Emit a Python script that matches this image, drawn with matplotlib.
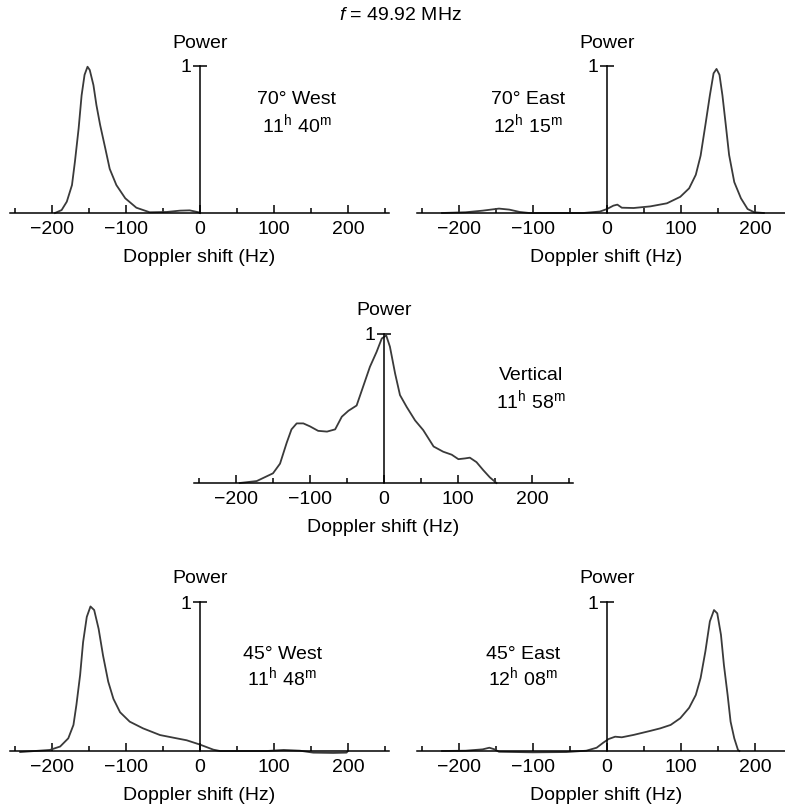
import matplotlib
matplotlib.use("Agg")
import matplotlib.pyplot as plt

plt.rcParams['font.family'] = ['Liberation Sans', 'DejaVu Sans']
plt.rcParams['mathtext.fontset'] = 'custom'
plt.rcParams['mathtext.rm'] = 'Liberation Sans'
plt.rcParams['mathtext.it'] = 'Liberation Sans:italic'

# ---------------- data (Doppler shift in Hz, normalised power) ----------------
w70_shift = [-196, -187, -180, -173, -169, -164, -160, -156, -152, -149, -144, -140,
             -135, -128, -122, -113, -101, -86, -68, -45, -27, -14, -2, 0]
w70_power = [0.0, 0.02, 0.077, 0.19, 0.35, 0.576, 0.80, 0.94, 0.995, 0.973, 0.87, 0.735,
             0.60, 0.44, 0.30, 0.19, 0.10, 0.036, 0.005, 0.007, 0.016, 0.018, 0.005, 0.0]

e70_shift = [-223, -191, -168, -146, -132, -118, -105, -77, -32, -9.5, 0, 8.6, 14, 20,
             36, 58.5, 81, 99, 111, 120, 126.5, 133, 139, 144, 148, 152, 156, 160.5, 165,
             172, 181, 190, 199, 212]
e70_power = [0.0, 0.005, 0.016, 0.03, 0.023, 0.007, 0.0, 0.0, 0.0, 0.01, 0.027, 0.05,
             0.057, 0.036, 0.034, 0.045, 0.066, 0.11, 0.168, 0.26, 0.39, 0.60, 0.80, 0.95,
             0.98, 0.94, 0.80, 0.60, 0.395, 0.21, 0.10, 0.027, 0.005, 0.0]

vert_shift = [-195, -172, -150, -140.5, -131.5, -125, -118, -109, -100, -89, -77, -66,
              -57, -48, -37, -28, -19, -10, -3, 3, 8, 15, 21.6, 30.7, 42, 53, 67, 80,
              91.5, 100.5, 109.5, 116, 125, 134, 143, 152]
vert_power = [0.0, 0.013, 0.065, 0.13, 0.27, 0.36, 0.40, 0.40, 0.38, 0.35, 0.345, 0.36,
              0.445, 0.485, 0.52, 0.65, 0.78, 0.88, 0.97, 0.99, 0.915, 0.735, 0.59, 0.51,
              0.42, 0.355, 0.245, 0.21, 0.19, 0.16, 0.165, 0.17, 0.14, 0.087, 0.038, 0.0]

w45_shift = [-243, -203, -189, -178, -171, -167, -162, -158, -153, -148, -143, -137,
             -131, -124, -117, -108, -95, -77, -54, -31.5, -18, 0, 18, 27, 90, 113, 135,
             153, 180, 198, 200]
w45_power = [-0.007, 0.007, 0.03, 0.085, 0.175, 0.31, 0.51, 0.73, 0.90, 0.97, 0.946, 0.82,
             0.64, 0.465, 0.35, 0.26, 0.197, 0.152, 0.107, 0.085, 0.072, 0.043, 0.009, 0.0,
             0.0, 0.007, 0.002, -0.011, -0.013, -0.011, 0.0]

e45_shift = [-223, -191, -168, -159, -152, -146, -100, -55, -28, -14, -5, 2, 11, 20, 36,
             58.5, 72, 86, 99, 111, 120, 126.5, 133, 139, 144.6, 149, 154, 158, 163, 167,
             172, 177, 179]
e45_power = [0.0, 0.002, 0.011, 0.022, 0.011, -0.005, -0.009, -0.007, 0.002, 0.022, 0.056,
             0.08, 0.096, 0.092, 0.108, 0.135, 0.152, 0.175, 0.22, 0.29, 0.376, 0.49, 0.67,
             0.87, 0.946, 0.924, 0.78, 0.577, 0.376, 0.197, 0.085, 0.007, 0.0]

major_ticks = [-200, -100, 0, 100, 200]
minor_ticks = [-250, -150, -50, 50, 150, 250]
title_text = r"$f$ = 49.92 MHz"

# ---------------- layout ----------------
W, H = 785, 810
PX_PER_HZ = 0.74
XMIN, XMAX = -257, 255
YMIN, YMAX = -0.05, 1.05


def rect(zero_x, axis_y, unit_px):
    left = (zero_x + XMIN * PX_PER_HZ) / W
    width = (XMAX - XMIN) * PX_PER_HZ / W
    bottom = 1 - (axis_y - YMIN * unit_px) / H
    height = (YMAX - YMIN) * unit_px / H
    return [left, bottom, width, height]


fig = plt.figure(figsize=(W / 100, H / 100), dpi=100)

panels = [
    (rect(200, 213, 147), w70_shift, w70_power, "70° West", r"11$^{\rm h}$ 40$^{\rm m}$", 131, 0.77, 0.605),
    (rect(607, 213, 147), e70_shift, e70_power, "70° East", r"12$^{\rm h}$ 15$^{\rm m}$", -107, 0.77, 0.605),
    (rect(384, 483, 149), vert_shift, vert_power, "Vertical", r"11$^{\rm h}$ 58$^{\rm m}$", 199, 0.72, 0.555),
    (rect(200, 751, 149), w45_shift, w45_power, "45° West", r"11$^{\rm h}$ 48$^{\rm m}$", 111, 0.645, 0.495),
    (rect(607, 751, 149), e45_shift, e45_power, "45° East", r"12$^{\rm h}$ 08$^{\rm m}$", -114, 0.645, 0.495),
]

FS = 14
for r, xs, ps, l1, l2, tx, ty1, ty2 in panels:
    ax = fig.add_axes(r)
    ax.patch.set_visible(False)
    ax.plot(xs, ps, color='#3a3a3a', lw=1.3, solid_joinstyle='round')
    ax.set_xlim(XMIN, XMAX)
    ax.set_ylim(YMIN, YMAX)
    for s in ['top', 'right']:
        ax.spines[s].set_visible(False)
    ax.spines['bottom'].set_position(('data', 0))
    ax.spines['left'].set_position(('data', 0))
    ax.spines['left'].set_bounds(0, 1)
    ax.spines['bottom'].set_linewidth(1.1)
    ax.spines['left'].set_linewidth(1.1)
    ax.set_xticks(major_ticks)
    ax.set_xticks(minor_ticks, minor=True)
    ax.set_xticklabels([f"{t}".replace('-', '\u2212') for t in major_ticks])
    ax.tick_params(axis='x', which='major', direction='in', length=6, width=1.1,
                   labelsize=FS, pad=6)
    ax.tick_params(axis='x', which='minor', direction='in', length=3.5, width=1.1)
    ax.set_yticks([1])
    ax.set_yticklabels(['1'])
    ax.tick_params(axis='y', direction='inout', length=10, width=1.1, labelsize=FS, pad=1)
    ax.text(0, 1.155, 'Power', ha='center', va='center', fontsize=FS)
    ax.set_xlabel('Doppler shift (Hz)', fontsize=FS, labelpad=8)
    ax.text(tx, ty1, l1, ha='center', va='center', fontsize=FS)
    ax.text(tx, ty2, l2, ha='center', va='center', fontsize=FS)

fig.text(400 / W, 1 - 15 / H, title_text, ha='center', va='center', fontsize=FS)

fig.savefig('out.png', dpi=100)
